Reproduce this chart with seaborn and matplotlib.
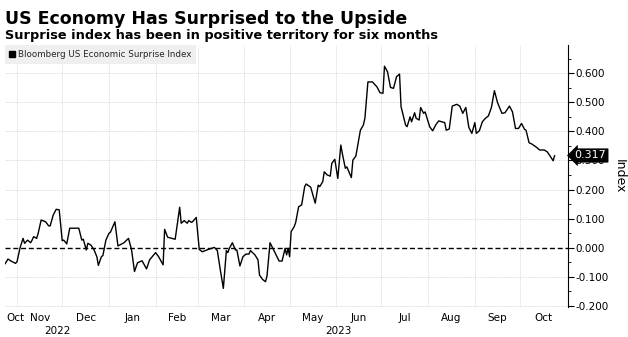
import numpy as np
import pandas as pd
import matplotlib
matplotlib.use("Agg")
import matplotlib.pyplot as plt
from matplotlib.lines import Line2D
from matplotlib.ticker import FuncFormatter, MultipleLocator, FixedLocator
import seaborn as sns

# ---------------- data ----------------
dates = [
    "2022-10-24", "2022-10-26", "2022-10-28", "2022-10-31", "2022-11-01", "2022-11-03",
    "2022-11-05", "2022-11-06", "2022-11-08", "2022-11-10", "2022-11-11", "2022-11-12",
    "2022-11-14", "2022-11-15", "2022-11-17", "2022-11-20", "2022-11-22", "2022-11-23",
    "2022-11-25", "2022-11-27", "2022-11-29", "2022-12-01", "2022-12-02", "2022-12-04",
    "2022-12-06", "2022-12-08", "2022-12-12", "2022-12-14", "2022-12-15", "2022-12-17",
    "2022-12-18", "2022-12-20", "2022-12-22", "2022-12-24", "2022-12-25", "2022-12-27",
    "2022-12-28", "2022-12-30", "2023-01-01", "2023-01-02", "2023-01-05", "2023-01-07",
    "2023-01-11", "2023-01-14", "2023-01-16", "2023-01-18", "2023-01-20", "2023-01-23",
    "2023-01-26", "2023-01-28", "2023-02-01", "2023-02-03", "2023-02-06", "2023-02-07",
    "2023-02-09", "2023-02-12", "2023-02-14", "2023-02-17", "2023-02-18", "2023-02-20",
    "2023-02-22", "2023-02-23", "2023-02-25", "2023-02-26", "2023-02-28", "2023-03-02",
    "2023-03-04", "2023-03-08", "2023-03-12", "2023-03-14", "2023-03-16", "2023-03-18",
    "2023-03-20", "2023-03-21", "2023-03-22", "2023-03-24", "2023-03-26", "2023-03-27",
    "2023-03-29", "2023-03-31", "2023-04-02", "2023-04-04", "2023-04-05", "2023-04-08",
    "2023-04-10", "2023-04-11", "2023-04-13", "2023-04-15", "2023-04-16", "2023-04-18",
    "2023-04-21", "2023-04-24", "2023-04-26", "2023-04-28", "2023-04-29", "2023-04-30",
    "2023-05-01", "2023-05-02", "2023-05-04", "2023-05-05", "2023-05-07", "2023-05-09",
    "2023-05-11", "2023-05-12", "2023-05-15", "2023-05-18", "2023-05-20", "2023-05-21",
    "2023-05-23", "2023-05-24", "2023-05-26", "2023-05-28", "2023-05-29", "2023-05-31",
    "2023-06-02", "2023-06-04", "2023-06-05", "2023-06-07", "2023-06-08", "2023-06-11",
    "2023-06-12", "2023-06-14", "2023-06-17", "2023-06-19", "2023-06-20", "2023-06-22",
    "2023-06-25", "2023-06-28", "2023-06-30", "2023-07-02", "2023-07-03", "2023-07-05",
    "2023-07-07", "2023-07-09", "2023-07-11", "2023-07-13", "2023-07-14", "2023-07-17",
    "2023-07-18", "2023-07-20", "2023-07-21", "2023-07-23", "2023-07-24", "2023-07-26",
    "2023-07-27", "2023-07-29", "2023-07-30", "2023-08-01", "2023-08-02", "2023-08-04",
    "2023-08-06", "2023-08-08", "2023-08-10", "2023-08-12", "2023-08-13", "2023-08-15",
    "2023-08-17", "2023-08-20", "2023-08-22", "2023-08-24", "2023-08-26", "2023-08-28",
    "2023-08-30", "2023-09-01", "2023-09-02", "2023-09-04", "2023-09-06", "2023-09-08",
    "2023-09-10", "2023-09-12", "2023-09-14", "2023-09-16", "2023-09-19", "2023-09-21",
    "2023-09-24", "2023-09-26", "2023-09-28", "2023-09-30", "2023-10-02", "2023-10-04",
    "2023-10-05", "2023-10-07", "2023-10-09", "2023-10-12", "2023-10-14", "2023-10-17",
    "2023-10-19", "2023-10-21", "2023-10-23", "2023-10-24",
]
values = [
    -0.056, -0.039, -0.046, -0.054, -0.048, 0.000,
    0.032, 0.015, 0.026, 0.017, 0.026, 0.038,
    0.032, 0.049, 0.095, 0.089, 0.075, 0.075,
    0.112, 0.132, 0.130, 0.024, 0.026, 0.013,
    0.067, 0.067, 0.067, 0.026, 0.029, -0.008,
    0.015, 0.009, -0.006, -0.031, -0.061, -0.031,
    -0.027, 0.026, 0.049, 0.053, 0.089, 0.006,
    0.017, 0.032, -0.006, -0.082, -0.052, -0.045,
    -0.073, -0.042, -0.017, -0.031, -0.059, 0.063,
    0.036, 0.032, 0.029, 0.139, 0.084, 0.093,
    0.084, 0.093, 0.087, 0.092, 0.104, -0.006,
    -0.014, -0.006, 0.001, -0.010, -0.077, -0.140,
    -0.010, -0.017, -0.002, 0.017, -0.008, -0.008,
    -0.063, -0.031, -0.022, -0.022, -0.010, -0.025,
    -0.042, -0.094, -0.109, -0.117, -0.097, 0.017,
    -0.014, -0.046, -0.046, -0.002, -0.025, -0.002,
    -0.031, 0.055, 0.072, 0.086, 0.141, 0.147,
    0.210, 0.219, 0.208, 0.153, 0.215, 0.210,
    0.227, 0.261, 0.250, 0.246, 0.290, 0.304,
    0.238, 0.353, 0.324, 0.273, 0.278, 0.241,
    0.301, 0.315, 0.404, 0.422, 0.445, 0.570,
    0.570, 0.553, 0.533, 0.531, 0.624, 0.605,
    0.551, 0.548, 0.588, 0.597, 0.485, 0.422,
    0.416, 0.450, 0.433, 0.464, 0.445, 0.439,
    0.482, 0.462, 0.467, 0.433, 0.416, 0.402,
    0.422, 0.436, 0.433, 0.430, 0.404, 0.408,
    0.487, 0.493, 0.487, 0.462, 0.482, 0.414,
    0.393, 0.430, 0.393, 0.402, 0.433, 0.445,
    0.453, 0.482, 0.540, 0.500, 0.462, 0.464,
    0.487, 0.467, 0.410, 0.410, 0.427, 0.407,
    0.404, 0.361, 0.356, 0.345, 0.336, 0.336,
    0.330, 0.315, 0.299, 0.317,
]
series_name = "Bloomberg US Economic Surprise Index"
last_value_label = "0.317"
title = "US Economy Has Surprised to the Upside"
subtitle = "Surprise index has been in positive territory for six months"
y_label = "Index"
month_labels = ["Oct", "Nov", "Dec", "Jan", "Feb", "Mar", "Apr", "May", "Jun",
                "Jul", "Aug", "Sep", "Oct"]
year_labels = ["2022", "2023"]
y_ticks = [-0.2, -0.1, 0.0, 0.1, 0.2, 0.3, 0.4, 0.5, 0.6]

# ---------------- figure ----------------
sns.set_theme(style="white")
plt.rcParams["font.family"] = ["DejaVu Sans"]

W, H = 628, 337
fig = plt.figure(figsize=(W / 100, H / 100), dpi=100)
fig.patch.set_facecolor("white")
ax_l, ax_r, ax_t, ax_b = 5, 567.7, 45, 307
ax = fig.add_axes([ax_l / W, 1 - ax_b / H, (ax_r - ax_l) / W, (ax_b - ax_t) / H])
ax.set_facecolor("white")

df = pd.DataFrame({"date": pd.to_datetime(dates), "value": values})
sns.lineplot(data=df, x="date", y="value", color="black", linewidth=1.0,
             ax=ax, legend=False, zorder=5)

x0 = pd.Timestamp("2022-10-24")
x1 = pd.Timestamp("2023-11-01 16:00")
ax.set_xlim(x0, x1)
ax.set_ylim(-0.204, 0.697)

# grid (fine, light dotted)
grid_c = "#cfcfcf"
month_starts = pd.date_range("2022-11-01", "2023-10-01", freq="MS")
for m in month_starts:
    ax.axvline(m, color=grid_c, lw=0.6, ls=(0, (1, 1.2)), zorder=1)
for yv in y_ticks:
    if yv != 0.0:
        ax.axhline(yv, color=grid_c, lw=0.6, ls=(0, (1, 1.2)), zorder=1)
ax.axhline(0.0, color="black", lw=1.0, ls=(0, (3.6, 2.0)), zorder=3)

# spines
for s in ["left", "top", "bottom"]:
    ax.spines[s].set_visible(False)
ax.spines["right"].set_color("black")
ax.spines["right"].set_linewidth(0.8)

# y axis on right
ax.yaxis.tick_right()
ax.yaxis.set_label_position("right")
ax.yaxis.set_major_locator(FixedLocator(y_ticks))
ax.yaxis.set_minor_locator(MultipleLocator(0.05))
ax.yaxis.set_major_formatter(FuncFormatter(lambda v, p: "%.3f" % v))
ax.tick_params(axis="y", which="major", length=4, width=0.8, color="black",
               labelsize=7.5, pad=1.5, labelcolor="black", left=False, right=True)
ax.tick_params(axis="y", which="minor", length=2, width=0.6, color="black",
               left=False, right=True)

# x axis: month labels centred in the visible part of each month
bounds = [x0] + list(month_starts) + [x1]
centers = [a + (b - a) / 2 for a, b in zip(bounds[:-1], bounds[1:])]
centers[0] = bounds[1] - (bounds[1] - bounds[0]) / 6   # first label nudged right as in reference
ax.xaxis.set_major_locator(FixedLocator([matplotlib.dates.date2num(c) for c in centers]))
ax.set_xticklabels(month_labels)
ax.tick_params(axis="x", which="major", length=0, labelsize=7.5, pad=4, labelcolor="black")
ax.set_xlabel("")
ax.set_ylabel(y_label, rotation=270, fontsize=9, labelpad=12, color="black")

# year labels centred on the visible span of each year
yr_spans = [(x0, pd.Timestamp("2023-01-01")), (pd.Timestamp("2023-01-01"), x1)]
trans = matplotlib.transforms.blended_transform_factory(ax.transData, ax.transAxes)
for lab, (a, b) in zip(year_labels, yr_spans):
    ax.text(a + (b - a) / 2, -0.092, lab, transform=trans, ha="center", va="center",
            fontsize=7.5, color="black")

# legend
handle = Line2D([], [], marker="s", color="black", ls="none", markersize=4.2)
leg = ax.legend([handle], [series_name], loc="upper left", bbox_to_anchor=(0, 1),
                borderaxespad=0, frameon=True, fancybox=False, fontsize=6.3,
                handlelength=0.6, handletextpad=0.3, borderpad=0.55,
                facecolor="#efefef", edgecolor="none", framealpha=1)
leg.set_zorder(10)

# last value tag (covers the 0.300 tick label as in the reference)
ax.annotate(last_value_label, xy=(1, values[-1]), xycoords=("axes fraction", "data"),
            xytext=(5, 0), textcoords="offset points", ha="left", va="center",
            color="white", fontsize=8, annotation_clip=False, zorder=20,
            bbox=dict(boxstyle="larrow,pad=0.15", fc="black", ec="black", lw=0.5))

# titles
t1 = fig.text(5 / W, 1 - 24 / H, title, fontsize=13, fontweight="bold",
              ha="left", va="baseline", color="black")
t2 = fig.text(5 / W, 1 - 38.5 / H, subtitle, fontsize=9, fontweight="bold",
              ha="left", va="baseline", color="black")

def fit_width(txt, target_px):
    fig.canvas.draw()
    r = fig.canvas.get_renderer()
    w = txt.get_window_extent(r).width
    txt.set_fontsize(txt.get_fontsize() * target_px / w)

fit_width(t1, 400)
fit_width(t2, 431)

fig.savefig("out.png", dpi=100, facecolor="white")
